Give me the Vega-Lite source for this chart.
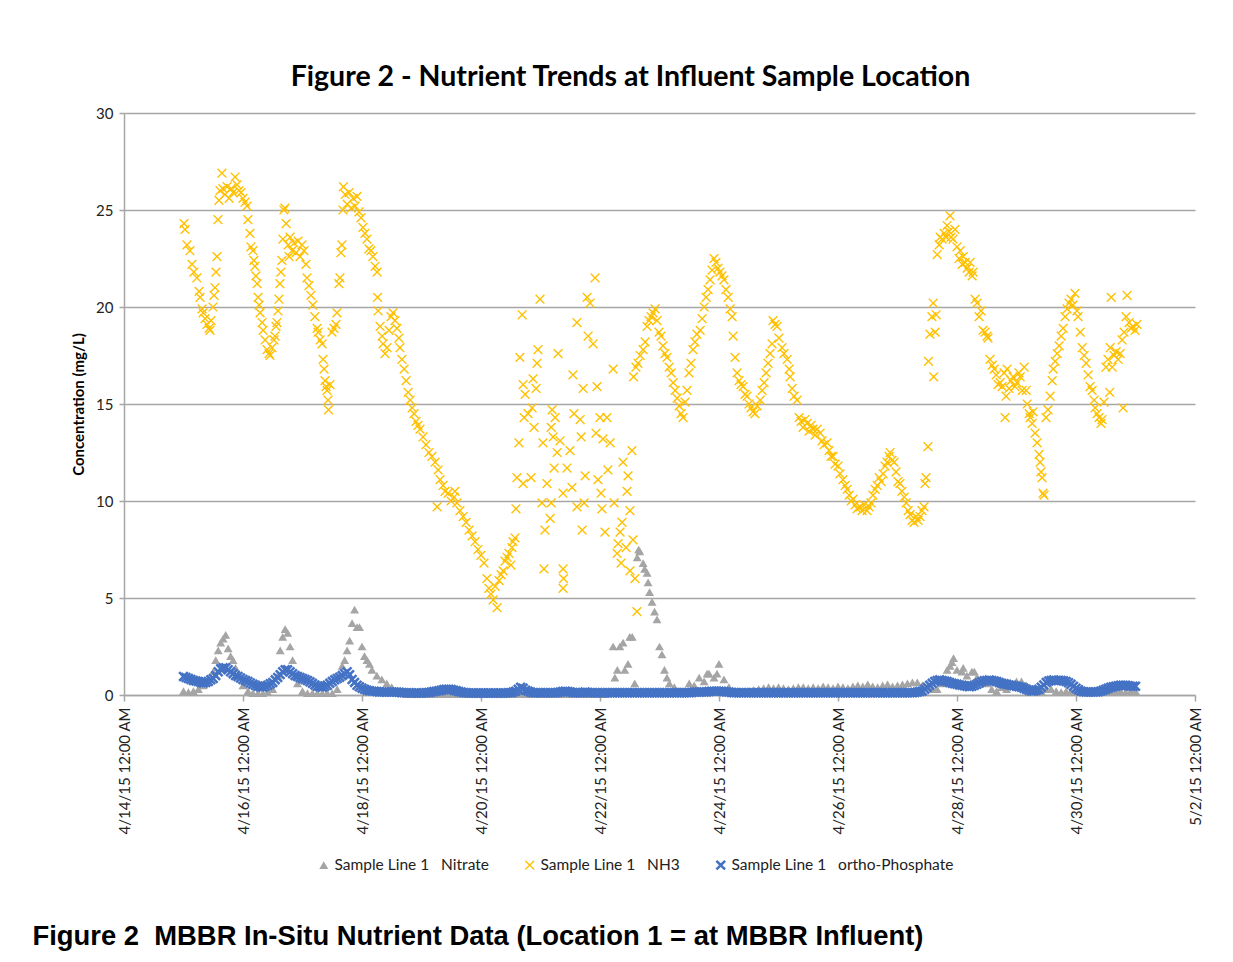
{
"$schema":"https://vega.github.io/schema/vega-lite/v6.json",
"width":1071,"height":582,
"autosize":{"type":"none"},
"padding":{"left":124,"top":113,"right":38,"bottom":267},
"background":"white",
"config":{"view":{"stroke":null}},
"title":{"text":"Figure 2 - Nutrient Trends at Influent Sample Location","font":"Lato","fontSize":28.5,"fontWeight":"bold","color":"#000","anchor":"middle","dx":-29,"offset":15},
"data":{"values":[
{"h":24,"a":0.2,"c":0.95},{"h":26,"a":0.15,"c":0.85},{"h":28,"a":0.2,"c":0.75},{"h":30,"a":0.3,"c":0.7},{"h":32,"a":0.5,"c":0.62},{"h":34,"a":0.8,"c":0.7},{"h":36,"a":1.2,"c":0.85},{"h":38,"a":2.3,"c":1.2},{"h":40,"a":2.9,"c":1.4},{"h":42,"a":2.4,"c":1.3},{"h":44,"a":1.8,"c":1.1},{"h":46,"a":1.0,"c":0.95},{"h":48,"a":0.5,"c":0.8},{"h":50,"a":0.2,"c":0.7},{"h":52,"a":0.1,"c":0.55},{"h":54,"a":0.1,"c":0.45},{"h":56,"a":0.1,"c":0.4},{"h":58,"a":0.15,"c":0.5},{"h":60,"a":0.3,"c":0.65},{"h":62,"a":1.0,"c":0.9},{"h":64,"a":3.0,"c":1.2},{"h":66,"a":3.2,"c":1.3},{"h":68,"a":1.8,"c":1.1},{"h":70,"a":0.6,"c":0.95},{"h":72,"a":0.2,"c":0.85},{"h":74,"a":0.1,"c":0.75},{"h":76,"a":0.1,"c":0.6},{"h":78,"a":0.1,"c":0.45},{"h":80,"a":0.1,"c":0.4},{"h":82,"a":0.1,"c":0.5},{"h":84,"a":0.1,"c":0.7},{"h":86,"a":0.3,"c":0.85},{"h":88,"a":1.5,"c":1.0},{"h":90,"a":2.3,"c":1.2},{"h":92,"a":3.7,"c":0.8},{"h":94,"a":3.5,"c":0.5},{"h":96,"a":2.5,"c":0.35},{"h":98,"a":1.8,"c":0.25},{"h":100,"a":1.3,"c":0.2},{"h":102,"a":1.0,"c":0.18},{"h":104,"a":0.8,"c":0.15},{"h":106,"a":0.6,"c":0.15},{"h":108,"a":0.4,"c":0.15},{"h":110,"a":0.2,"c":0.15},{"h":112,"a":0.1,"c":0.12},{"h":114,"a":0.05,"c":0.12},{"h":116,"a":0.05,"c":0.1},{"h":118,"a":0.05,"c":0.1},{"h":120,"a":0.05,"c":0.1},{"h":122,"a":0.05,"c":0.12},{"h":124,"a":0.05,"c":0.15},{"h":126,"a":0.05,"c":0.2},{"h":128,"a":0.05,"c":0.25},{"h":130,"a":0.05,"c":0.3},{"h":132,"a":0.05,"c":0.28},{"h":134,"a":0.05,"c":0.22},{"h":136,"a":0.05,"c":0.15},{"h":138,"a":0.05,"c":0.12},{"h":140,"a":0.05,"c":0.1},{"h":142,"a":0.05,"c":0.1},{"h":144,"a":0.05,"c":0.1},{"h":146,"a":0.05,"c":0.1},{"h":148,"a":0.05,"c":0.1},{"h":150,"a":0.05,"c":0.1},{"h":152,"a":0.05,"c":0.1},{"h":154,"a":0.05,"c":0.1},{"h":156,"a":0.05,"c":0.12},{"h":158,"a":0.05,"c":0.2},{"h":160,"a":0.05,"c":0.4},{"h":162,"a":0.05,"c":0.25},{"h":164,"a":0.05,"c":0.15},{"h":166,"a":0.05,"c":0.12},{"h":168,"a":0.05,"c":0.12},{"h":170,"a":0.05,"c":0.12},{"h":172,"a":0.05,"c":0.12},{"h":174,"a":0.05,"c":0.12},{"h":176,"a":0.05,"c":0.15},{"h":178,"a":0.05,"c":0.2},{"h":180,"a":0.05,"c":0.15},{"h":182,"a":0.05,"c":0.12},{"h":184,"a":0.05,"c":0.12},{"h":186,"a":0.05,"c":0.15},{"h":188,"a":0.05,"c":0.12},{"h":190,"a":0.05,"c":0.12},{"h":192,"a":0.05,"c":0.12},{"h":194,"a":0.05,"c":0.12},{"h":196,"a":0.1,"c":0.12},{"h":198,"a":0.9,"c":0.12},{"h":200,"a":2.5,"c":0.12},{"h":202,"a":1.3,"c":0.12},{"h":204,"a":3.0,"c":0.12},{"h":206,"a":0.6,"c":0.12},{"h":208,"a":7.4,"c":0.12},{"h":210,"a":6.5,"c":0.12},{"h":212,"a":5.3,"c":0.12},{"h":214,"a":4.3,"c":0.12},{"h":216,"a":2.5,"c":0.12},{"h":218,"a":1.3,"c":0.12},{"h":220,"a":0.6,"c":0.12},{"h":222,"a":0.4,"c":0.12},{"h":224,"a":0.2,"c":0.12},{"h":226,"a":0.2,"c":0.12},{"h":228,"a":0.6,"c":0.12},{"h":230,"a":0.5,"c":0.15},{"h":232,"a":0.9,"c":0.15},{"h":234,"a":0.7,"c":0.15},{"h":236,"a":1.1,"c":0.18},{"h":238,"a":0.9,"c":0.2},{"h":240,"a":1.6,"c":0.2},{"h":242,"a":0.8,"c":0.18},{"h":244,"a":0.4,"c":0.15},{"h":246,"a":0.2,"c":0.12},{"h":248,"a":0.2,"c":0.12},{"h":250,"a":0.15,"c":0.12},{"h":252,"a":0.2,"c":0.12},{"h":254,"a":0.25,"c":0.12},{"h":256,"a":0.3,"c":0.12},{"h":258,"a":0.35,"c":0.12},{"h":260,"a":0.4,"c":0.12},{"h":262,"a":0.35,"c":0.12},{"h":264,"a":0.4,"c":0.12},{"h":266,"a":0.35,"c":0.12},{"h":268,"a":0.3,"c":0.12},{"h":270,"a":0.35,"c":0.12},{"h":272,"a":0.4,"c":0.12},{"h":274,"a":0.4,"c":0.12},{"h":276,"a":0.35,"c":0.12},{"h":278,"a":0.4,"c":0.12},{"h":280,"a":0.35,"c":0.12},{"h":282,"a":0.45,"c":0.12},{"h":284,"a":0.4,"c":0.12},{"h":286,"a":0.35,"c":0.12},{"h":288,"a":0.45,"c":0.12},{"h":290,"a":0.4,"c":0.12},{"h":292,"a":0.35,"c":0.12},{"h":294,"a":0.45,"c":0.12},{"h":296,"a":0.5,"c":0.12},{"h":298,"a":0.45,"c":0.12},{"h":300,"a":0.55,"c":0.12},{"h":302,"a":0.45,"c":0.12},{"h":304,"a":0.4,"c":0.12},{"h":306,"a":0.5,"c":0.12},{"h":308,"a":0.55,"c":0.12},{"h":310,"a":0.45,"c":0.12},{"h":312,"a":0.5,"c":0.12},{"h":314,"a":0.55,"c":0.12},{"h":316,"a":0.6,"c":0.12},{"h":318,"a":0.65,"c":0.12},{"h":320,"a":0.65,"c":0.15},{"h":322,"a":0.5,"c":0.2},{"h":324,"a":0.4,"c":0.4},{"h":326,"a":0.3,"c":0.6},{"h":328,"a":0.3,"c":0.75},{"h":330,"a":0.6,"c":0.75},{"h":332,"a":1.3,"c":0.7},{"h":334,"a":1.7,"c":0.6},{"h":336,"a":1.3,"c":0.55},{"h":338,"a":1.2,"c":0.5},{"h":340,"a":1.0,"c":0.45},{"h":342,"a":1.2,"c":0.45},{"h":344,"a":0.9,"c":0.55},{"h":346,"a":0.7,"c":0.7},{"h":348,"a":0.6,"c":0.75},{"h":350,"a":0.3,"c":0.75},{"h":352,"a":0.2,"c":0.7},{"h":354,"a":0.4,"c":0.6},{"h":356,"a":0.3,"c":0.55},{"h":358,"a":0.5,"c":0.5},{"h":360,"a":0.7,"c":0.45},{"h":362,"a":0.7,"c":0.4},{"h":364,"a":0.5,"c":0.3},{"h":366,"a":0.3,"c":0.2},{"h":368,"a":0.2,"c":0.25},{"h":370,"a":0.2,"c":0.4},{"h":372,"a":0.3,"c":0.65},{"h":374,"a":0.3,"c":0.75},{"h":376,"a":0.2,"c":0.75},{"h":378,"a":0.15,"c":0.75},{"h":380,"a":0.2,"c":0.7},{"h":382,"a":0.2,"c":0.55},{"h":384,"a":0.15,"c":0.35},{"h":386,"a":0.2,"c":0.2},{"h":388,"a":0.2,"c":0.15},{"h":390,"a":0.2,"c":0.15},{"h":392,"a":0.15,"c":0.15},{"h":394,"a":0.2,"c":0.2},{"h":396,"a":0.2,"c":0.3},{"h":398,"a":0.15,"c":0.4},{"h":400,"a":0.2,"c":0.45},{"h":402,"a":0.2,"c":0.5},{"h":404,"a":0.15,"c":0.5},{"h":406,"a":0.2,"c":0.45},{"h":408,"a":0.2,"c":0.45},
{"h":25,"c":0.9},{"h":27,"c":0.8},{"h":29,"c":0.72},{"h":31,"c":0.65},{"h":33,"c":0.65},{"h":35,"c":0.78},{"h":37,"c":1.0},{"h":39,"c":1.35},{"h":41,"c":1.4},{"h":43,"c":1.2},{"h":45,"c":1.0},{"h":47,"c":0.88},{"h":49,"c":0.75},{"h":51,"c":0.62},{"h":53,"c":0.5},{"h":55,"c":0.42},{"h":57,"c":0.45},{"h":59,"c":0.58},{"h":61,"c":0.78},{"h":63,"c":1.05},{"h":65,"c":1.3},{"h":67,"c":1.2},{"h":69,"c":1.0},{"h":71,"c":0.9},{"h":73,"c":0.8},{"h":75,"c":0.68},{"h":77,"c":0.52},{"h":79,"c":0.42},{"h":81,"c":0.45},{"h":83,"c":0.6},{"h":85,"c":0.78},{"h":87,"c":0.92},{"h":89,"c":1.1},{"h":91,"c":1.05},{"h":93,"c":0.65},{"h":95,"c":0.42},{"h":97,"c":0.3},{"h":99,"c":0.22},{"h":101,"c":0.2},{"h":103,"c":0.16},{"h":105,"c":0.15},{"h":107,"c":0.15},{"h":109,"c":0.15},{"h":111,"c":0.14},{"h":113,"c":0.11},{"h":115,"c":0.11},{"h":117,"c":0.1},{"h":119,"c":0.1},{"h":121,"c":0.11},{"h":123,"c":0.13},{"h":125,"c":0.18},{"h":127,"c":0.22},{"h":129,"c":0.28},{"h":131,"c":0.3},{"h":133,"c":0.25},{"h":135,"c":0.18},{"h":137,"c":0.13},{"h":139,"c":0.1},{"h":141,"c":0.1},{"h":143,"c":0.1},{"h":145,"c":0.1},{"h":147,"c":0.1},{"h":149,"c":0.1},{"h":151,"c":0.1},{"h":153,"c":0.1},{"h":155,"c":0.11},{"h":157,"c":0.15},{"h":159,"c":0.3},{"h":161,"c":0.35},{"h":163,"c":0.2},{"h":165,"c":0.12},{"h":167,"c":0.12},{"h":169,"c":0.12},{"h":171,"c":0.12},{"h":173,"c":0.12},{"h":175,"c":0.13},{"h":177,"c":0.18},{"h":179,"c":0.18},{"h":181,"c":0.13},{"h":183,"c":0.12},{"h":185,"c":0.13},{"h":187,"c":0.13},{"h":189,"c":0.12},{"h":191,"c":0.12},{"h":193,"c":0.12},{"h":195,"c":0.12},{"h":197,"c":0.12},{"h":199,"c":0.12},{"h":201,"c":0.12},{"h":203,"c":0.12},{"h":205,"c":0.12},{"h":207,"c":0.12},{"h":209,"c":0.12},{"h":211,"c":0.12},{"h":213,"c":0.12},{"h":215,"c":0.12},{"h":217,"c":0.12},{"h":219,"c":0.12},{"h":221,"c":0.12},{"h":223,"c":0.12},{"h":225,"c":0.12},{"h":227,"c":0.12},{"h":229,"c":0.13},{"h":231,"c":0.15},{"h":233,"c":0.15},{"h":235,"c":0.16},{"h":237,"c":0.19},{"h":239,"c":0.2},{"h":241,"c":0.19},{"h":243,"c":0.16},{"h":245,"c":0.13},{"h":247,"c":0.12},{"h":249,"c":0.12},{"h":251,"c":0.12},{"h":253,"c":0.12},{"h":255,"c":0.12},{"h":257,"c":0.12},{"h":259,"c":0.12},{"h":261,"c":0.12},{"h":263,"c":0.12},{"h":265,"c":0.12},{"h":267,"c":0.12},{"h":269,"c":0.12},{"h":271,"c":0.12},{"h":273,"c":0.12},{"h":275,"c":0.12},{"h":277,"c":0.12},{"h":279,"c":0.12},{"h":281,"c":0.12},{"h":283,"c":0.12},{"h":285,"c":0.12},{"h":287,"c":0.12},{"h":289,"c":0.12},{"h":291,"c":0.12},{"h":293,"c":0.12},{"h":295,"c":0.12},{"h":297,"c":0.12},{"h":299,"c":0.12},{"h":301,"c":0.12},{"h":303,"c":0.12},{"h":305,"c":0.12},{"h":307,"c":0.12},{"h":309,"c":0.12},{"h":311,"c":0.12},{"h":313,"c":0.12},{"h":315,"c":0.12},{"h":317,"c":0.12},{"h":319,"c":0.13},{"h":321,"c":0.18},{"h":323,"c":0.3},{"h":325,"c":0.5},{"h":327,"c":0.7},{"h":329,"c":0.78},{"h":331,"c":0.72},{"h":333,"c":0.65},{"h":335,"c":0.58},{"h":337,"c":0.52},{"h":339,"c":0.48},{"h":341,"c":0.43},{"h":343,"c":0.5},{"h":345,"c":0.62},{"h":347,"c":0.74},{"h":349,"c":0.77},{"h":351,"c":0.72},{"h":353,"c":0.65},{"h":355,"c":0.58},{"h":357,"c":0.52},{"h":359,"c":0.48},{"h":361,"c":0.42},{"h":363,"c":0.35},{"h":365,"c":0.25},{"h":367,"c":0.2},{"h":369,"c":0.3},{"h":371,"c":0.52},{"h":373,"c":0.72},{"h":375,"c":0.77},{"h":377,"c":0.76},{"h":379,"c":0.73},{"h":381,"c":0.63},{"h":383,"c":0.45},{"h":385,"c":0.27},{"h":387,"c":0.17},{"h":389,"c":0.15},{"h":391,"c":0.15},{"h":393,"c":0.17},{"h":395,"c":0.25},{"h":397,"c":0.35},{"h":399,"c":0.43},{"h":401,"c":0.48},{"h":403,"c":0.5},{"h":405,"c":0.48},{"h":407,"c":0.45},
{"h":37,"a":1.8},{"h":39,"a":2.7},{"h":41,"a":3.1},{"h":43,"a":2.0},{"h":45,"a":1.4},{"h":63,"a":2.3},{"h":65,"a":3.4},{"h":67,"a":2.5},{"h":89,"a":1.8},{"h":91,"a":2.8},{"h":93,"a":4.4},{"h":95,"a":3.5},{"h":97,"a":2.0},{"h":99,"a":1.6},{"h":197.3,"a":2.5},{"h":199,"a":1.3},{"h":201.3,"a":2.7},{"h":203.3,"a":1.6},{"h":205,"a":3.0},{"h":207,"a":7.1},{"h":207.6,"a":7.5},{"h":209.4,"a":6.8},{"h":211,"a":6.3},{"h":211.4,"a":5.8},{"h":213,"a":4.8},{"h":215,"a":3.9},{"h":217,"a":2.1},{"h":219,"a":0.9},{"h":235.2,"a":1.1},{"h":239.2,"a":1.1},{"h":333.2,"a":1.5},{"h":334.6,"a":1.9},{"h":338.5,"a":1.4},{"h":343,"a":1.2},
{"h":24.2,"b":24.3},{"h":24.6,"b":24.0},{"h":25.4,"b":23.2},{"h":26.6,"b":22.9},{"h":27.4,"b":22.2},{"h":28.2,"b":21.8},{"h":29.4,"b":21.5},{"h":30.3,"b":20.8},{"h":30.7,"b":20.5},{"h":31.5,"b":19.9},{"h":31.9,"b":19.7},{"h":32.7,"b":19.4},{"h":33.5,"b":19.1},{"h":34.3,"b":18.9},{"h":34.7,"b":18.8},{"h":35.1,"b":19.3},{"h":35.9,"b":20.0},{"h":36.3,"b":20.6},{"h":36.7,"b":21.0},{"h":37.1,"b":21.8},{"h":37.5,"b":22.6},{"h":37.9,"b":24.5},{"h":38.3,"b":25.5},{"h":38.7,"b":26.0},{"h":39.5,"b":26.9},{"h":39.9,"b":26.1},{"h":40.7,"b":25.8},{"h":41.6,"b":26.2},{"h":42.4,"b":25.6},{"h":43.2,"b":26.1},{"h":44.0,"b":25.9},{"h":44.8,"b":26.7},{"h":45.6,"b":26.3},{"h":46.4,"b":26.0},{"h":47.2,"b":25.9},{"h":48.0,"b":25.6},{"h":48.8,"b":25.4},{"h":49.6,"b":25.2},{"h":50.0,"b":24.5},{"h":50.8,"b":23.8},{"h":51.2,"b":23.1},{"h":52.0,"b":22.9},{"h":52.4,"b":22.4},{"h":52.8,"b":22.1},{"h":53.2,"b":21.6},{"h":53.7,"b":21.2},{"h":54.1,"b":20.5},{"h":54.5,"b":20.1},{"h":54.9,"b":19.7},{"h":55.7,"b":19.2},{"h":56.1,"b":18.8},{"h":56.9,"b":18.3},{"h":57.7,"b":17.8},{"h":58.5,"b":17.6},{"h":58.9,"b":17.5},{"h":59.7,"b":17.9},{"h":60.5,"b":18.3},{"h":60.9,"b":18.5},{"h":61.3,"b":19.0},{"h":61.7,"b":19.2},{"h":62.1,"b":19.8},{"h":62.5,"b":20.4},{"h":62.9,"b":21.2},{"h":63.3,"b":21.8},{"h":63.7,"b":22.4},{"h":64.1,"b":23.5},{"h":64.5,"b":25.0},{"h":64.9,"b":25.1},{"h":65.4,"b":24.3},{"h":66.2,"b":23.2},{"h":66.6,"b":22.6},{"h":67.0,"b":23.6},{"h":67.8,"b":22.9},{"h":68.6,"b":23.3},{"h":69.4,"b":22.8},{"h":70.2,"b":23.4},{"h":71.0,"b":22.6},{"h":71.8,"b":23.2},{"h":72.6,"b":22.9},{"h":73.4,"b":22.2},{"h":73.8,"b":21.5},{"h":74.6,"b":21.1},{"h":75.4,"b":20.6},{"h":76.2,"b":20.1},{"h":77.0,"b":19.5},{"h":77.9,"b":18.9},{"h":78.3,"b":18.7},{"h":79.1,"b":18.3},{"h":79.9,"b":18.1},{"h":80.3,"b":17.3},{"h":80.7,"b":16.8},{"h":81.1,"b":16.2},{"h":81.5,"b":15.9},{"h":81.9,"b":15.7},{"h":82.3,"b":15.2},{"h":82.5,"b":14.7},{"h":83.1,"b":16.0},{"h":83.9,"b":18.7},{"h":84.7,"b":18.9},{"h":85.5,"b":19.1},{"h":85.9,"b":19.7},{"h":86.7,"b":21.2},{"h":87.1,"b":21.5},{"h":87.5,"b":22.8},{"h":87.9,"b":23.2},{"h":88.3,"b":25.0},{"h":88.5,"b":26.2},{"h":89.2,"b":25.8},{"h":90.0,"b":25.3},{"h":90.8,"b":25.9},{"h":91.6,"b":25.1},{"h":92.4,"b":25.6},{"h":93.2,"b":25.2},{"h":94.0,"b":25.7},{"h":94.8,"b":24.9},{"h":95.6,"b":24.6},{"h":96.4,"b":24.1},{"h":97.2,"b":23.8},{"h":98.0,"b":23.5},{"h":98.8,"b":23.0},{"h":99.6,"b":22.9},{"h":100.4,"b":22.6},{"h":101.3,"b":22.1},{"h":102.1,"b":21.8},{"h":102.3,"b":20.5},{"h":102.5,"b":19.8},{"h":103.3,"b":19.0},{"h":104.1,"b":18.5},{"h":104.5,"b":18.1},{"h":105.3,"b":17.6},{"h":106.1,"b":17.9},{"h":106.9,"b":18.8},{"h":107.7,"b":19.5},{"h":108.5,"b":19.7},{"h":109.3,"b":19.3},{"h":110.1,"b":18.9},{"h":110.9,"b":18.4},{"h":111.3,"b":17.9},{"h":112.1,"b":17.3},{"h":113.0,"b":16.8},{"h":113.8,"b":16.2},{"h":114.6,"b":15.6},{"h":115.4,"b":15.2},{"h":116.2,"b":14.8},{"h":117.0,"b":14.5},{"h":117.8,"b":14.1},{"h":118.6,"b":13.9},{"h":119.4,"b":13.7},{"h":120.6,"b":13.3},{"h":121.8,"b":12.9},{"h":123.0,"b":12.5},{"h":124.2,"b":12.3},{"h":125.5,"b":12.0},{"h":126.3,"b":9.7},{"h":126.7,"b":11.6},{"h":127.5,"b":11.1},{"h":128.7,"b":10.8},{"h":129.5,"b":10.5},{"h":130.7,"b":10.4},{"h":131.9,"b":10.0},{"h":133.1,"b":10.2},{"h":133.5,"b":10.5},{"h":134.3,"b":9.9},{"h":135.5,"b":9.5},{"h":136.8,"b":9.2},{"h":138.0,"b":8.9},{"h":139.2,"b":8.5},{"h":140.4,"b":8.2},{"h":141.6,"b":7.9},{"h":142.8,"b":7.5},{"h":144.0,"b":7.2},{"h":145.2,"b":6.8},{"h":146.4,"b":6.0},{"h":147.2,"b":5.5},{"h":148.0,"b":5.2},{"h":148.9,"b":4.9},{"h":149.7,"b":5.6},{"h":150.5,"b":4.5},{"h":151.3,"b":5.9},{"h":152.1,"b":6.2},{"h":152.9,"b":6.4},{"h":153.7,"b":6.9},{"h":154.5,"b":7.1},{"h":155.3,"b":7.3},{"h":156.1,"b":6.7},{"h":156.5,"b":7.6},{"h":156.9,"b":7.9},{"h":157.7,"b":8.1},
{"h":160.6,"b":19.6},{"h":167.8,"b":20.4},{"h":190.0,"b":21.5},{"h":186.8,"b":20.5},{"h":188.0,"b":20.2},{"h":182.7,"b":19.2},{"h":187.2,"b":18.5},{"h":189.2,"b":18.1},{"h":197.3,"b":16.8},{"h":159.7,"b":17.4},{"h":167.0,"b":17.8},{"h":166.6,"b":17.1},{"h":175.1,"b":17.6},{"h":181.1,"b":16.5},{"h":165.0,"b":16.3},{"h":161.0,"b":16.0},{"h":166.2,"b":15.8},{"h":185.2,"b":15.8},{"h":190.8,"b":15.9},{"h":161.8,"b":15.5},{"h":163.0,"b":14.5},{"h":164.6,"b":14.8},{"h":161.4,"b":14.3},{"h":172.7,"b":14.7},{"h":173.9,"b":14.3},{"h":181.5,"b":14.5},{"h":184.0,"b":14.2},{"h":192.0,"b":14.3},{"h":194.8,"b":14.3},{"h":165.4,"b":13.8},{"h":172.3,"b":13.8},{"h":184.4,"b":13.3},{"h":190.4,"b":13.5},{"h":193.2,"b":13.2},{"h":159.3,"b":13.0},{"h":169.0,"b":13.0},{"h":173.1,"b":13.3},{"h":175.9,"b":13.1},{"h":196.1,"b":13.0},{"h":179.9,"b":12.6},{"h":204.9,"b":12.6},{"h":174.7,"b":12.5},{"h":201.3,"b":12.0},{"h":173.5,"b":11.7},{"h":178.7,"b":11.7},{"h":195.2,"b":11.6},{"h":203.3,"b":11.3},{"h":158.5,"b":11.2},{"h":161.0,"b":10.9},{"h":164.2,"b":11.2},{"h":170.6,"b":10.9},{"h":177.1,"b":10.4},{"h":180.7,"b":10.7},{"h":186.0,"b":11.3},{"h":191.2,"b":11.1},{"h":192.4,"b":10.4},{"h":202.9,"b":10.5},{"h":158.1,"b":9.6},{"h":168.6,"b":9.9},{"h":172.3,"b":9.9},{"h":182.7,"b":9.7},{"h":185.6,"b":9.9},{"h":192.8,"b":9.6},{"h":197.7,"b":9.9},{"h":204.1,"b":9.5},{"h":171.9,"b":9.1},{"h":169.8,"b":8.5},{"h":184.8,"b":8.5},{"h":194.0,"b":8.4},{"h":200.9,"b":8.9},{"h":200.1,"b":8.4},{"h":199.3,"b":7.8},{"h":202.5,"b":7.6},{"h":205.3,"b":8.0},{"h":198.9,"b":7.3},{"h":200.5,"b":6.8},{"h":204.1,"b":6.4},{"h":206.1,"b":6.0},{"h":169.4,"b":6.5},{"h":177.1,"b":6.5},{"h":177.3,"b":6.0},{"h":177.1,"b":5.5},{"h":206.9,"b":4.3},
{"h":205.5,"b":16.4},{"h":206.5,"b":16.9},{"h":207.3,"b":17.1},{"h":208.2,"b":17.5},{"h":209.4,"b":17.8},{"h":210.2,"b":18.2},{"h":211.0,"b":19.0},{"h":211.8,"b":19.3},{"h":212.6,"b":19.5},{"h":213.4,"b":19.7},{"h":214.2,"b":19.9},{"h":215.0,"b":19.3},{"h":215.8,"b":18.7},{"h":216.6,"b":18.5},{"h":217.4,"b":18.0},{"h":218.2,"b":17.6},{"h":219.0,"b":17.4},{"h":219.9,"b":16.9},{"h":220.7,"b":16.6},{"h":221.5,"b":16.1},{"h":222.3,"b":15.7},{"h":223.1,"b":15.3},{"h":223.9,"b":14.9},{"h":224.7,"b":14.5},{"h":225.5,"b":14.3},{"h":226.3,"b":15.1},{"h":227.1,"b":15.7},{"h":227.9,"b":16.6},{"h":228.7,"b":17.1},{"h":229.5,"b":17.8},{"h":230.3,"b":18.2},{"h":231.1,"b":18.6},{"h":232.4,"b":18.8},{"h":233.2,"b":19.4},{"h":234.0,"b":20.0},{"h":234.8,"b":20.5},{"h":235.6,"b":20.9},{"h":236.4,"b":21.4},{"h":237.2,"b":21.9},{"h":238.0,"b":22.5},{"h":238.8,"b":22.3},{"h":239.6,"b":22.0},{"h":240.4,"b":21.8},{"h":241.2,"b":21.6},{"h":242.0,"b":21.4},{"h":242.8,"b":20.9},{"h":243.7,"b":20.5},{"h":244.5,"b":19.9},{"h":245.3,"b":19.5},{"h":245.7,"b":18.5},{"h":246.5,"b":17.4},{"h":247.3,"b":16.6},{"h":248.1,"b":16.2},{"h":248.9,"b":16.0},{"h":249.7,"b":15.9},{"h":250.5,"b":15.5},{"h":251.3,"b":15.4},{"h":252.1,"b":15.0},{"h":252.9,"b":14.8},{"h":253.7,"b":14.6},{"h":254.5,"b":14.5},{"h":255.4,"b":14.9},{"h":256.6,"b":15.2},{"h":257.4,"b":15.7},{"h":258.2,"b":16.1},{"h":259.0,"b":16.6},{"h":259.8,"b":17.1},{"h":260.6,"b":17.6},{"h":261.4,"b":18.1},{"h":261.8,"b":19.3},{"h":262.6,"b":19.1},{"h":263.4,"b":19.0},{"h":264.2,"b":18.4},{"h":265.4,"b":17.9},{"h":266.2,"b":17.6},{"h":267.5,"b":17.3},{"h":268.3,"b":16.8},{"h":268.7,"b":16.4},{"h":269.5,"b":15.8},{"h":270.3,"b":15.4},{"h":271.5,"b":15.2},{"h":272.3,"b":14.3},{"h":273.1,"b":14.1},{"h":273.9,"b":13.8},{"h":274.7,"b":14.2},{"h":275.5,"b":14.0},{"h":276.3,"b":13.6},{"h":277.1,"b":13.9},{"h":277.9,"b":13.7},{"h":278.8,"b":13.4},{"h":279.6,"b":13.7},{"h":280.8,"b":13.5},{"h":281.6,"b":13.1},{"h":282.4,"b":12.9},{"h":283.6,"b":13.0},{"h":284.4,"b":12.6},{"h":285.2,"b":12.3},{"h":286.0,"b":12.3},{"h":286.8,"b":11.9},{"h":288.0,"b":11.8},{"h":288.8,"b":11.4},{"h":290.0,"b":11.1},{"h":290.9,"b":10.8},{"h":291.7,"b":10.6},{"h":292.5,"b":10.3},{"h":293.3,"b":10.0},{"h":294.1,"b":10.1},{"h":294.9,"b":9.8},{"h":295.7,"b":9.6},{"h":296.9,"b":9.7},{"h":297.7,"b":9.5},{"h":298.5,"b":9.8},{"h":299.7,"b":9.5},{"h":300.5,"b":9.7},{"h":301.3,"b":9.9},{"h":302.1,"b":10.3},{"h":303.0,"b":10.6},{"h":303.8,"b":10.8},{"h":304.6,"b":11.2},{"h":305.4,"b":11.0},{"h":306.2,"b":11.4},{"h":307.0,"b":11.8},{"h":307.8,"b":12.0},{"h":308.6,"b":12.3},{"h":309.0,"b":12.5},{"h":309.8,"b":12.1},{"h":310.6,"b":12.0},{"h":311.4,"b":11.5},{"h":312.2,"b":11.0},{"h":313.0,"b":10.9},{"h":313.8,"b":10.5},{"h":314.7,"b":10.2},{"h":315.5,"b":9.9},{"h":316.3,"b":9.5},{"h":317.1,"b":9.3},{"h":317.9,"b":9.0},{"h":318.7,"b":8.9},{"h":319.5,"b":9.2},{"h":320.3,"b":9.0},{"h":321.1,"b":9.2},{"h":321.9,"b":9.5},{"h":322.7,"b":9.7},{"h":323.1,"b":10.9},{"h":323.5,"b":11.2},{"h":324.3,"b":12.8},{"h":324.5,"b":17.2},{"h":325.1,"b":18.6},{"h":325.9,"b":19.5},{"h":326.4,"b":20.2},{"h":326.6,"b":16.4},{"h":327.2,"b":18.7},{"h":327.6,"b":19.6},{"h":328.0,"b":22.7},{"h":328.8,"b":23.2},{"h":329.2,"b":23.6},{"h":330.0,"b":23.5},{"h":330.8,"b":23.8},{"h":331.6,"b":23.6},{"h":332.0,"b":24.2},{"h":332.8,"b":23.9},{"h":333.2,"b":24.7},{"h":333.6,"b":23.6},{"h":334.4,"b":23.5},{"h":335.2,"b":24.0},{"h":336.0,"b":23.1},{"h":336.8,"b":22.5},{"h":337.3,"b":22.9},{"h":338.1,"b":22.2},{"h":338.5,"b":22.6},{"h":339.3,"b":22.3},{"h":340.1,"b":22.0},{"h":340.9,"b":21.8},{"h":341.3,"b":22.3},{"h":342.1,"b":21.6},{"h":342.5,"b":21.8},{"h":343.3,"b":20.4},{"h":344.1,"b":20.2},{"h":344.9,"b":19.5},{"h":345.7,"b":19.8},{"h":346.5,"b":18.8},{"h":347.3,"b":18.7},{"h":348.1,"b":18.5},{"h":348.5,"b":18.4},{"h":349.3,"b":17.3},{"h":350.2,"b":17.0},{"h":351.0,"b":16.8},{"h":351.8,"b":16.5},{"h":352.6,"b":16.0},{"h":353.4,"b":16.1},{"h":354.2,"b":15.9},{"h":355.0,"b":16.6},{"h":355.4,"b":14.3},{"h":355.8,"b":15.4},{"h":356.2,"b":16.8},{"h":357.0,"b":15.8},{"h":357.8,"b":16.2},{"h":358.6,"b":16.4},{"h":359.4,"b":15.9},{"h":360.2,"b":16.1},{"h":361.0,"b":16.6},{"h":361.5,"b":16.4},{"h":362.3,"b":15.7},{"h":363.1,"b":16.9},{"h":363.9,"b":15.7},{"h":364.3,"b":15.0},{"h":365.1,"b":14.5},{"h":365.5,"b":14.3},{"h":366.3,"b":14.0},{"h":366.7,"b":14.6},{"h":367.5,"b":13.5},{"h":368.3,"b":13.0},{"h":369.1,"b":12.4},{"h":369.5,"b":12.0},{"h":369.9,"b":11.5},{"h":370.3,"b":11.2},{"h":370.7,"b":10.4},{"h":371.1,"b":10.3},{"h":371.9,"b":14.3},{"h":372.7,"b":14.7},{"h":373.6,"b":15.4},{"h":374.4,"b":16.2},{"h":374.8,"b":16.8},{"h":375.6,"b":17.2},{"h":376.4,"b":17.6},{"h":377.2,"b":18.0},{"h":378.0,"b":18.5},{"h":378.8,"b":18.9},{"h":379.6,"b":19.5},{"h":380.4,"b":19.9},{"h":381.2,"b":20.2},{"h":382.0,"b":20.4},{"h":382.8,"b":20.1},{"h":383.6,"b":20.7},{"h":384.4,"b":19.8},{"h":384.8,"b":19.5},{"h":385.7,"b":18.7},{"h":386.5,"b":17.9},{"h":387.3,"b":17.5},{"h":388.1,"b":17.1},{"h":388.9,"b":16.5},{"h":389.7,"b":15.9},{"h":390.5,"b":15.7},{"h":391.3,"b":15.2},{"h":391.7,"b":14.8},{"h":392.5,"b":14.5},{"h":393.3,"b":14.3},{"h":394.1,"b":14.0},{"h":394.5,"b":14.2},{"h":395.3,"b":15.1},{"h":396.1,"b":16.9},{"h":396.9,"b":17.3},{"h":397.8,"b":17.9},{"h":397.6,"b":15.6},{"h":398.2,"b":20.5},{"h":398.6,"b":16.9},{"h":399.4,"b":17.5},{"h":400.2,"b":17.7},{"h":401.0,"b":17.3},{"h":401.8,"b":17.6},{"h":402.6,"b":18.3},{"h":403.0,"b":14.8},{"h":403.4,"b":18.7},{"h":404.2,"b":19.5},{"h":404.6,"b":20.6},{"h":405.4,"b":19.2},{"h":406.2,"b":18.9},{"h":407.0,"b":19.0},{"h":407.8,"b":18.8},{"h":408.6,"b":19.1}
]},
"transform":[{"fold":["a","b","c"],"as":["s","v"]},{"filter":"isValid(datum.v)"}],
"mark":{"type":"point","filled":true,"opacity":1,"strokeWidth":0},
"encoding":{
"x":{"field":"h","type":"quantitative","scale":{"domain":[0,432],"nice":false,"zero":false},
"axis":{"values":[0,48,96,144,192,240,288,336,384,432],"labelExpr":"timeFormat(datetime(2015,3,14,datum.value),'%-m/%-d/%y %-I:%M %p')","labelAngle":-90,"labelFont":"Lato","labelFontSize":15,"labelColor":"#222","labelPadding":6,"labelBound":false,"labelOverlap":false,"grid":false,"domainColor":"#A6A6A6","domainWidth":1.5,"tickColor":"#A6A6A6","tickWidth":1.5,"tickSize":6,
"title":"Figure 2\u00a0\u00a0MBBR In-Situ Nutrient Data (Location 1 = at MBBR Influent)","titleFont":"Liberation Sans","titleFontSize":27.4,"titleFontWeight":"bold","titleColor":"#000","titleAnchor":"start","titleAlign":"left","titleBaseline":"alphabetic","titleX":-92,"titleY":249,"titleLimit":1200}},
"y":{"field":"v","type":"quantitative","scale":{"domain":[0,30],"nice":false},
"axis":{"values":[0,5,10,15,20,25,30],"labelFont":"Lato","labelFontSize":15,"labelColor":"#222","labelPadding":6,"tickSize":5,"tickColor":"#A6A6A6","tickWidth":1.5,"domainColor":"#A6A6A6","domainWidth":1.5,"grid":true,"gridColor":"#A6A6A6","gridWidth":1.5,
"title":"Concentration (mg/L)","titleFont":"Lato","titleFontSize":15,"titleFontWeight":"bold","titleColor":"#000","titlePadding":9}},
"color":{"field":"s","type":"nominal","scale":{"domain":["a","b","c"],"range":["#A5A5A5","#FFC000","#4472C4"]},
"legend":{"orient":"none","legendX":192,"legendY":744,"direction":"horizontal","title":null,"labelFont":"Lato","labelFontSize":15.5,"labelColor":"#222","labelLimit":400,"symbolSize":60,"labelOffset":3,"columnPadding":33,
"labelExpr":"datum.label=='a'?'Sample Line 1\u00a0\u00a0\u00a0Nitrate':datum.label=='b'?'Sample Line 1\u00a0\u00a0\u00a0NH3':'Sample Line 1\u00a0\u00a0\u00a0ortho-Phosphate'"}},
"shape":{"field":"s","type":"nominal","scale":{"domain":["a","b","c"],"range":["triangle-up","M-1,-0.8L-0.8,-1L0,-0.2L0.8,-1L1,-0.8L0.2,0L1,0.8L0.8,1L0,0.2L-0.8,1L-1,0.8L-0.2,0Z","M-1,-0.66L-0.66,-1L0,-0.34L0.66,-1L1,-0.66L0.34,0L1,0.66L0.66,1L0,0.34L-0.66,1L-1,0.66L-0.34,0Z"]}},
"size":{"field":"s","type":"nominal","scale":{"domain":["a","b","c"],"range":[80,110,80]},"legend":null},
"order":{"field":"s","type":"nominal"}
}
}
